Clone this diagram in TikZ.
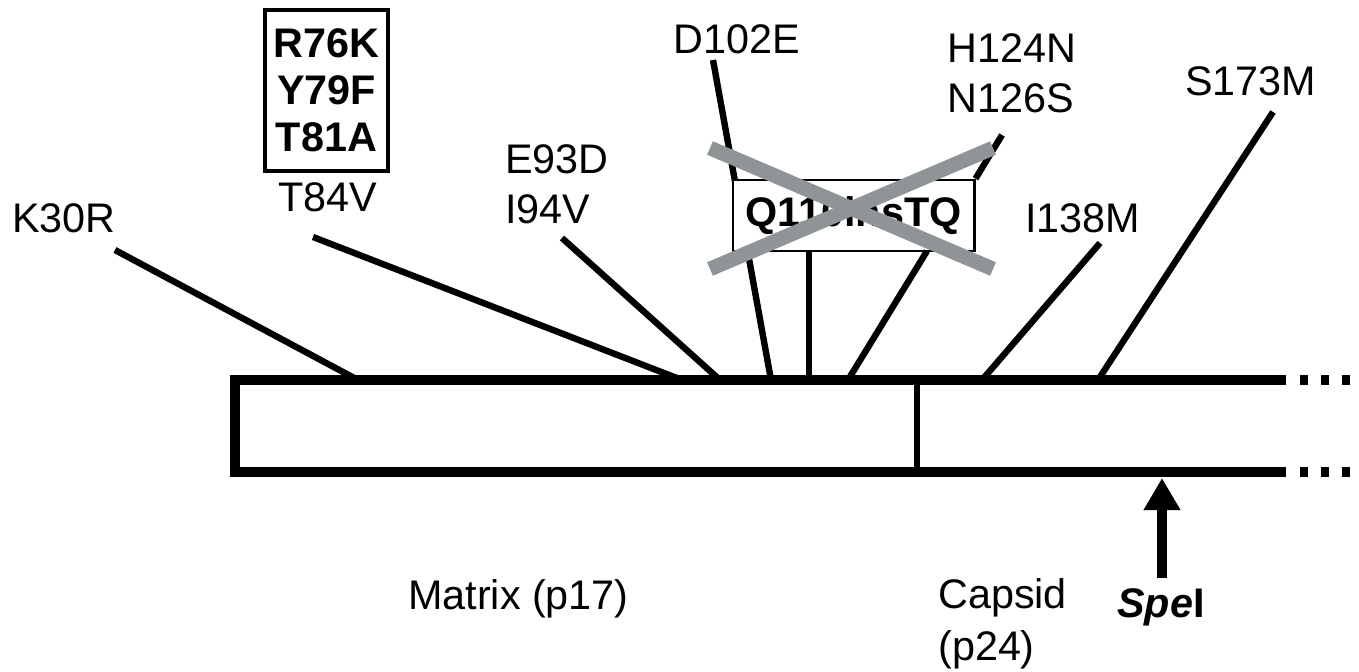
\documentclass[tikz,border=0pt]{standalone}
\usepackage{fontspec}
\setmainfont{Liberation Sans}
\usetikzlibrary{arrows.meta}
\definecolor{crossgray}{RGB}{143,148,150}
\tikzset{
  lbl/.style={inner sep=0pt,font=\fontsize{31}{37.5}\selectfont},
  lead/.style={line width=4.8pt},
  bar/.style={line width=7.8pt,miter limit=4},
  mutbox/.style={draw,fill=white,inner sep=0pt,font=\fontsize{31}{35.25}\selectfont\bfseries,align=center}
}

\begin{document}
\begin{tikzpicture}[x=.75pt,y=-.75pt]
  \useasboundingbox (0,0) rectangle (1359,671);
  % labels
  \node[lbl,anchor=base] (k30r) at (64,232) {K30R};
  \node[mutbox,line width=3pt,minimum width=92pt,minimum height=121pt] (r76k) at (326.5,90.5) {R76K\\Y79F\\T81A};
  \node[lbl,anchor=base] (t84v) at (328,211) {T84V};
  \node[lbl,anchor=base west,align=left] (e93d) at (505,223) {E93D\\I94V};
  \node[lbl,anchor=base west] (d102e) at (673,53) {D102E};
  \node[lbl,anchor=base west,align=left] (h124n) at (947,112) {H124N\\N126S};
  \node[lbl,anchor=base west] (i138m) at (1025,232) {I138M};
  \node[lbl,anchor=base west] (s173m) at (1185,95) {S173M};
  \node[lbl,anchor=base west] (matrix) at (408,609) {Matrix (p17)};
  \node[lbl,anchor=base west,align=left,font=\fontsize{31}{39}\selectfont] (capsid) at (938,660) {Capsid\\(p24)};
  \node[lbl,anchor=base west] (spei) at (1117,617) {\textbf{\textit{Spe}I}};
  % points on the bar
  \coordinate (m30) at (358,380);
  \coordinate (m84) at (682,380);
  \coordinate (m93) at (720,380);
  \coordinate (m102) at (771,380);
  \coordinate (m110) at (809,380);
  \coordinate (m124) at (848,380);
  \coordinate (m138) at (982,380);
  \coordinate (m173) at (1098,380);
  \coordinate (spesite) at (1162,478);
  % leader ends near the labels
  \coordinate (k30r-t) at (115,250);
  \coordinate (t84v-t) at (313,237);
  \coordinate (e93d-t) at (562,238);
  \coordinate (d102e-t) at (713,60);
  \coordinate (h124n-t) at (1002,135);
  \coordinate (ins-r) at (927,251);
  \coordinate (i138m-t) at (1100,243);
  \coordinate (s173m-t) at (1273,112);
  \draw[lead] (k30r-t) -- (m30);
  \draw[lead] (t84v-t) -- (m84);
  \draw[lead] (e93d-t) -- (m93);
  \draw[lead] (d102e-t) -- (m102);
  \draw[lead] (i138m-t) -- (m138);
  \draw[lead] (s173m-t) -- (m173);
  % insertion box
  \node[mutbox,line width=2pt,minimum width=181pt,minimum height=53.25pt] (ins) at (853.5,215.5) {Q110insTQ};
  \draw[lead] (ins.south -| m110) -- (m110);
  \draw[lead] (ins-r) -- (m124);
  \draw[lead] (h124n-t) -- (ins.north east);
  % gag bar
  \draw[line width=4.5pt] (917,380) -- (917,472);
  \draw[bar] (1286,380) -- (235,380) -- (235,472) -- (1286,472);
  \draw[line width=7pt,dash pattern=on 6pt off 9.75pt] (1300,380) -- (1352,380);
  \draw[line width=7pt,dash pattern=on 6pt off 9.75pt] (1300,472) -- (1352,472);
  \draw[line width=7.5pt,-{Triangle[width=26pt,length=24pt]}] (1162,578) -- (spesite);
  % crossed out
  \draw[crossgray,line width=11pt] (710,148) -- (993,269);
  \draw[crossgray,line width=11pt] (710,269) -- (993,148);
\end{tikzpicture}
\end{document}
